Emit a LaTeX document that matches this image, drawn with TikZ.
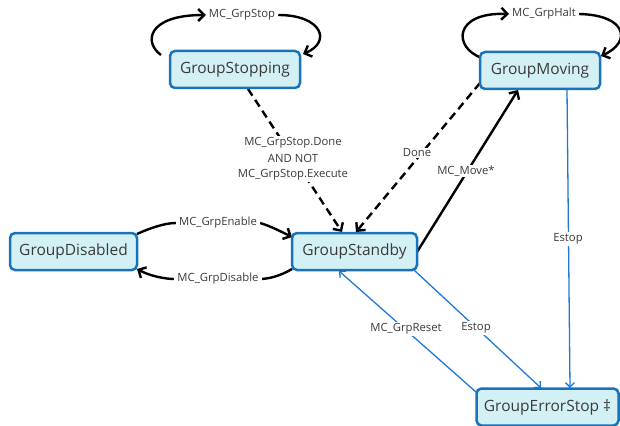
\documentclass[tikz,border=0pt]{standalone}
\usepackage{fontspec}
\setmainfont{Open Sans}
\usetikzlibrary{arrows.meta,backgrounds}
\definecolor{boxfill}{HTML}{D3F1F4}
\definecolor{boxline}{HTML}{1A72BA}
\definecolor{txt}{HTML}{3A3A3A}
\definecolor{blueedge}{HTML}{1F7AD6}
\begin{document}
\begin{tikzpicture}[x=1pt,y=-1pt,
  state/.style={draw=boxline,fill=boxfill,line width=2.5pt,rounded corners=5pt,
    minimum height=37pt,inner xsep=6pt,font=\fontsize{15.5}{17}\selectfont,text=txt},
  lbl/.style={fill=white,inner ysep=1.2pt,inner xsep=3pt,font=\fontsize{11.3}{13.5}\selectfont,text=txt,align=center},
  blk/.style={line width=2.4pt,draw=black,-{Straight Barb[length=6pt,width=12pt,line width=2.4pt]}},
  blkn/.style={line width=2.4pt,draw=black},
  dsh/.style={blk,dash pattern=on 8pt off 5pt},
  blu/.style={line width=1.3pt,draw=blueedge,-{Straight Barb[length=4.5pt,width=9pt,line width=1.3pt]}},
]
\useasboundingbox (0,0) rectangle (620,425);
\node[state,minimum width=130pt] (stop) at (235,69.5) {GroupStopping};
\node[state,minimum width=120pt] (move) at (540,70.5) {GroupMoving};
\node[state,minimum width=127pt] (dis) at (73.5,251.5) {GroupDisabled};
\node[state,minimum width=125pt] (stby) at (354.5,251.5) {GroupStandby};
\node[state,minimum width=142pt] (err) at (547.5,407) {GroupErrorStop ‡};

\node[lbl] (lstop) at (242,15) {MC\_GrpStop};
\node[lbl] (lhalt) at (544,14) {MC\_GrpHalt};
\node[lbl] (len) at (218,223) {MC\_GrpEnable};
\node[lbl] (ldis) at (218,279) {MC\_GrpDisable};
\node[lbl] (lsd) at (293,159) {MC\_GrpStop.Done\\[3.5pt]AND NOT\\[1.5pt]MC\_GrpStop.Execute};
\node[lbl] (ldone) at (417,153) {Done};
\node[lbl] (lmove) at (466,171) {MC\_Move*};
\node[lbl] (les1) at (568,239) {Estop};
\node[lbl] (les2) at (476,328) {Estop};
\node[lbl] (lres) at (406,329) {MC\_GrpReset};

\begin{pgfonlayer}{background}
% self loop GroupStopping
\draw[blk] (161,55) .. controls (143,42) and (148,15) .. (lstop.west);
\draw[blk] (lstop.east) .. controls (322,15) and (332,42) .. (303,54);
% self loop GroupMoving
\draw[blk] (482,58) .. controls (453,48) and (453,12) .. (lhalt.west);
\draw[blk] (lhalt.east) .. controls (627,15) and (632,42) .. (601,56);
% enable / disable
\draw[blkn] (137,234) .. controls (150,228) and (165,223) .. (len.west);
\draw[blk] (len.east) .. controls (270,226) and (280,231) .. (292,237);
\draw[blkn] (292,269) .. controls (285,273) and (275,278) .. (ldis.east);
\draw[blk] (ldis.west) .. controls (165,279) and (150,276) .. (137,269);
% dashed
\draw[dsh] (248,89) -- (342,232);
\draw[dsh] (480,83) -- (356,232);
% MC_Move*
\draw[blk] (417,252) -- (518,90);
% blue
\draw[blu] (567,90) -- (570,388);
\draw[blu] (414,270) -- (541,388);
\draw[blu] (476,392) -- (339,271);
\end{pgfonlayer}
\end{tikzpicture}
\end{document}
